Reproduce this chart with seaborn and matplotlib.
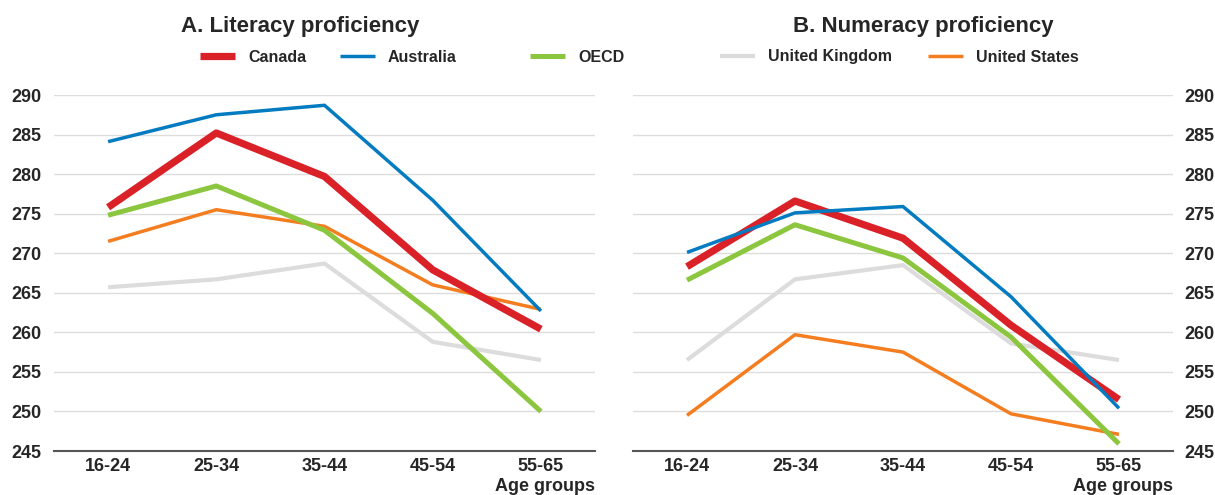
import matplotlib
matplotlib.use("Agg")
import matplotlib.pyplot as plt
import seaborn as sns
import pandas as pd

age_groups = ["16-24", "25-34", "35-44", "45-54", "55-65"]

# Panel A: literacy
lit_canada = [275.8, 285.2, 279.7, 267.9, 260.4]
lit_australia = [284.1, 287.5, 288.7, 276.7, 262.7]
lit_oecd = [274.8, 278.5, 272.9, 262.4, 250.0]
lit_uk = [265.7, 266.7, 268.7, 258.8, 256.5]
lit_us = [271.5, 275.5, 273.4, 266.0, 262.9]

# Panel B: numeracy
num_canada = [268.3, 276.6, 271.9, 260.9, 251.5]
num_australia = [270.1, 275.1, 275.9, 264.5, 250.4]
num_oecd = [266.6, 273.6, 269.4, 259.4, 245.9]
num_uk = [256.5, 266.7, 268.5, 258.6, 256.5]
num_us = [249.5, 259.7, 257.5, 249.7, 247.1]

series_names = ["Canada", "Australia", "OECD", "United Kingdom", "United States"]
colors = {"Canada": "#DA2128", "Australia": "#037BC1", "OECD": "#8CC63F",
          "United Kingdom": "#DCDCDC", "United States": "#F47D20"}
widths = {"Canada": 5.2, "Australia": 2.5, "OECD": 3.6,
          "United Kingdom": 3.0, "United States": 2.5}
draw_order = ["United Kingdom", "United States", "OECD", "Canada", "Australia"]

lit = {"Canada": lit_canada, "Australia": lit_australia, "OECD": lit_oecd,
       "United Kingdom": lit_uk, "United States": lit_us}
num = {"Canada": num_canada, "Australia": num_australia, "OECD": num_oecd,
       "United Kingdom": num_uk, "United States": num_us}

sns.set_theme(style="white")
plt.rcParams["font.family"] = ["Liberation Sans", "DejaVu Sans"]

W, H = 1215, 495
fig = plt.figure(figsize=(W / 100, H / 100), dpi=100)
ax1 = fig.add_axes([54 / W, 1 - 451 / H, 541 / W, 356 / H])
ax2 = fig.add_axes([633 / W, 1 - 451 / H, 540 / W, 356 / H])

tick_fs = 13
handles = {}
for ax, data in [(ax1, lit), (ax2, num)]:
    for name in draw_order:
        df = pd.DataFrame({"age": age_groups, "value": data[name]})
        sns.lineplot(data=df, x="age", y="value", ax=ax, color=colors[name],
                     linewidth=widths[name], sort=False, solid_capstyle="butt")
        handles[name] = ax.lines[-1]
    ax.set_xlim(-0.5, 4.5)
    ax.set_ylim(245, 290)
    ax.set_yticks(range(245, 291, 5))
    ax.yaxis.grid(True, color="#DDDDDD", linewidth=1.0)
    ax.set_axisbelow(True)
    for s in ["top", "left", "right"]:
        ax.spines[s].set_visible(False)
    ax.spines["bottom"].set_color("#555555")
    ax.spines["bottom"].set_linewidth(1.5)
    ax.tick_params(axis="x", direction="in", length=4, width=1, color="#888888",
                   pad=5, labelsize=tick_fs)
    ax.tick_params(axis="y", length=0, labelsize=tick_fs)
    for lbl in ax.get_xticklabels() + ax.get_yticklabels():
        lbl.set_fontweight("bold")
    ax.set_xlabel("Age groups", loc="right", fontsize=tick_fs, fontweight="bold",
                  labelpad=2)
    ax.set_ylabel("")

ax1.tick_params(axis="y", pad=9)
ax2.yaxis.tick_right()
ax2.tick_params(axis="y", pad=8, length=0)
for lbl in ax2.get_yticklabels():
    lbl.set_fontweight("bold")

fig.text(300 / W, 1 - 32 / H, "A. Literacy proficiency", ha="center",
         va="baseline", fontsize=16, fontweight="bold")
fig.text(923 / W, 1 - 32 / H, "B. Numeracy proficiency", ha="center",
         va="baseline", fontsize=16, fontweight="bold")

leg_fs = 11.5
leg_x = {"Canada": 200, "Australia": 340, "OECD": 530,
         "United Kingdom": 720, "United States": 928}
fs_px = leg_fs * 100 / 72
for name in series_names:
    h = handles[name]
    leg = fig.legend([h], [name], loc="center left",
                     bbox_to_anchor=(leg_x[name] / W, 1 - 57 / H),
                     frameon=False, borderpad=0,
                     borderaxespad=0, handlelength=35 / fs_px,
                     handletextpad=13 / fs_px,
                     prop={"weight": "bold", "size": leg_fs})
    for line in leg.get_lines():
        line.set_solid_capstyle("butt")

fig.savefig("out.png", dpi=100)
